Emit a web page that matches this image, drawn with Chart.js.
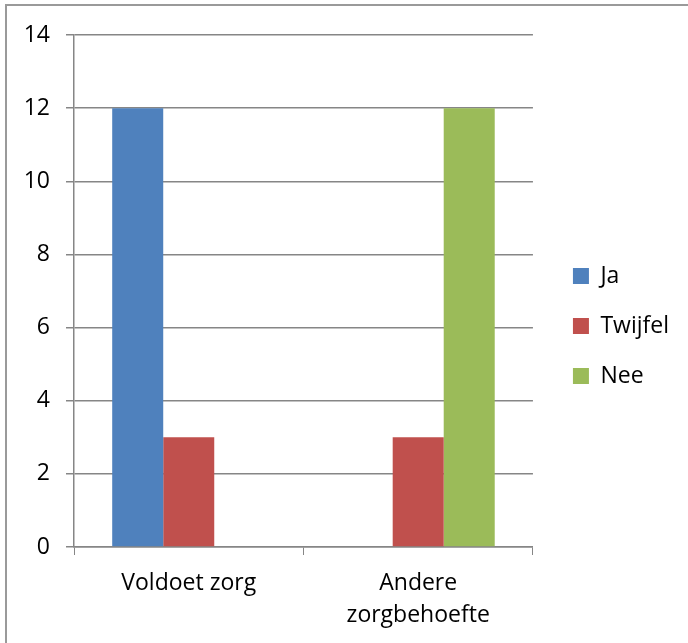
<!DOCTYPE html>
<html>
<head>
<meta charset="utf-8">
<script src="https://cdn.jsdelivr.net/npm/chart.js@4"></script>
<style>
  html, body { margin: 0; padding: 0; background: #fff; overflow: hidden; }
  #frame {
    position: absolute; left: 5px; top: 4px; width: 700px; height: 700px;
    border-left: 2px solid #9a9a9a; border-top: 2px solid #9a9a9a;
  }
  #chart { position: absolute; left: 0; top: 0; }
</style>
</head>
<body>
<div id="frame"></div>
<canvas id="chart" width="688" height="643"></canvas>
<script>
const categories = ["Voldoet zorg", ["Andere", "zorgbehoefte"]];
const ja = [12, 0];
const twijfel = [3, 3];
const nee = [0, 12];
const yTicks = [0, 2, 4, 6, 8, 10, 12, 14];

const axisGray = "#868686";
const font = { family: "'Open Sans', sans-serif", size: 23, lineHeight: 1.4 };

// nudge the legend a little closer to the plot and up, like the original
const legendShift = {
  id: "legendShift",
  afterLayout(chart) {
    const lg = chart.legend;
    lg.left -= 9;
    lg.right -= 9;
    lg.top -= 13;
    lg.bottom -= 13;
  }
};

new Chart(document.getElementById("chart"), {
  type: "bar",
  data: {
    labels: categories,
    datasets: [
      { label: "Ja", data: ja, backgroundColor: "#4F81BD" },
      { label: "Twijfel", data: twijfel, backgroundColor: "#C0504D" },
      { label: "Nee", data: nee, backgroundColor: "#9BBB59" }
    ]
  },
  options: {
    responsive: false,
    animation: false,
    layout: { padding: { top: 35, bottom: 0, left: 0, right: 0 } },
    datasets: {
      bar: { categoryPercentage: 0.667, barPercentage: 1 }
    },
    plugins: {
      tooltip: { enabled: false },
      legend: {
        position: "right",
        maxWidth: 140,
        labels: {
          color: "#000",
          font: font,
          boxWidth: 16,
          boxHeight: 16,
          padding: 27
        }
      }
    },
    scales: {
      x: {
        grid: {
          offset: true,
          drawOnChartArea: false,
          color: axisGray,
          tickLength: 8
        },
        border: { color: axisGray, width: 1.5 },
        ticks: { color: "#000", font: font, padding: 12, maxRotation: 0 },
        afterFit: s => { s.height = 96; }
      },
      y: {
        min: 0,
        max: 14,
        afterBuildTicks: s => { s.ticks = yTicks.map(v => ({ value: v })); },
        grid: { color: axisGray, tickLength: 8, lineWidth: 1.5 },
        border: { color: axisGray, width: 1.5 },
        ticks: { color: "#000", font: font, padding: 16 },
        afterFit: s => { s.width = 74; }
      },
      gap: {
        type: "linear",
        position: "right",
        grid: { display: false },
        border: { display: false },
        ticks: { display: false },
        afterFit: s => { s.width = 22; }
      }
    }
  },
  plugins: [legendShift]
});
</script>
</body>
</html>
